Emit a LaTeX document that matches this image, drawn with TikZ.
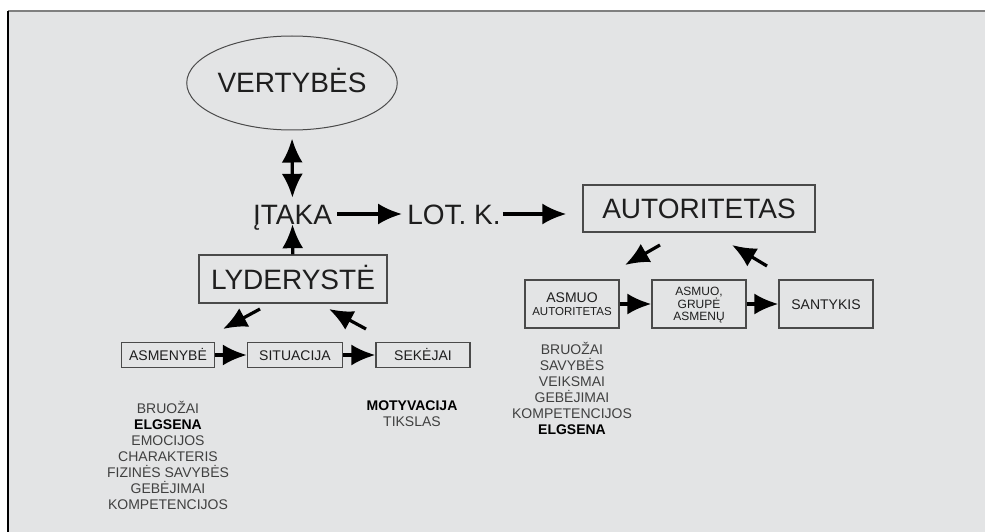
\documentclass[tikz,border=0pt]{standalone}
\usepackage{fontspec}
\setmainfont{Liberation Sans}
\usetikzlibrary{arrows.meta,shapes.geometric}
\definecolor{panel}{HTML}{E3E4E5}
\definecolor{ink}{HTML}{1E1E1E}
\definecolor{frame}{HTML}{4A4A4A}
\tikzset{
 big/.style={font=\fontsize{28}{28}\selectfont,text=ink,inner sep=0pt,text height=20pt,text depth=0pt},
 bigbox/.style={big,draw=frame,line width=1.2pt},
 smallbox/.style={draw=frame,line width=1.2pt,inner sep=0pt,font=\fontsize{14}{14}\selectfont,text=ink,text height=10pt,text depth=0pt},
 lst/.style={font=\fontsize{14}{16}\selectfont,align=center,text=ink!85,inner sep=0pt},
 arr/.style={-{Latex[length=24pt,width=21pt]},line width=3.2pt,draw=black},
 twoarr/.style={{Latex[length=24pt,width=21pt]}-{Latex[length=24pt,width=21pt]},line width=3.2pt,draw=black}
}
\begin{document}
\begin{tikzpicture}[x=1pt,y=-1pt]
\useasboundingbox (0,0) rectangle (985,532);
\fill[panel] (8,11) rectangle (985,532);
\draw[gray,line width=1.5pt] (8,11) -- (985,11);
\draw[black,line width=1.5pt] (8,11) -- (8,532);
\node[big,ellipse,draw=frame,line width=1pt,minimum width=189pt,minimum height=94pt] (vert) at (292,83) {VERTYBĖS};
\node[big] (itaka) at (292.5,214) {ĮTAKA};
\node[big] (lot) at (454,214) {LOT. K.};
\node[bigbox,minimum width=232pt,minimum height=47pt] (aut) at (699,208.5) {AUTORITETAS};
\node[bigbox,minimum width=188pt,minimum height=48pt] (lyd) at (293,279) {LYDERYSTĖ};
\node[smallbox,minimum width=93pt,minimum height=25pt] (asm) at (168,355) {ASMENYBĖ};
\node[smallbox,minimum width=95pt,minimum height=25pt] (sit) at (295,355) {SITUACIJA};
\node[smallbox,minimum width=94pt,minimum height=25pt] (sek) at (423,355) {SEKĖJAI};
\node[smallbox,minimum width=94pt,minimum height=48pt,align=center,text height=,font=\fontsize{14}{13}\selectfont] (aa) at (572,304) {ASMUO\\{\fontsize{11.5}{13}\selectfont AUTORITETAS}};
\node[smallbox,minimum width=94pt,minimum height=48pt,align=center,text height=,font=\fontsize{12}{12.5}\selectfont] (agr) at (699,304) {ASMUO,\\GRUPĖ\\ASMENŲ};
\node[smallbox,minimum width=94pt,minimum height=48pt] (san) at (826,304) {SANTYKIS};
\node[lst,anchor=north] (asmlst) at (168,401) {BRUOŽAI\\\textbf{\color{black}ELGSENA}\\EMOCIJOS\\CHARAKTERIS\\FIZINĖS SAVYBĖS\\GEBĖJIMAI\\KOMPETENCIJOS};
\node[lst,anchor=north] (seklst) at (412,401) {\textbf{\color{black}MOTYVACIJA}\\TIKSLAS};
\node[lst,anchor=north] (aalst) at (572,342) {BRUOŽAI\\SAVYBĖS\\VEIKSMAI\\GEBĖJIMAI\\KOMPETENCIJOS\\\textbf{\color{black}ELGSENA}};
\coordinate (d1a) at (260,309);
\coordinate (d1b) at (223,329);
\coordinate (d2a) at (366,329);
\coordinate (d2b) at (329,309);
\coordinate (d3a) at (660,245);
\coordinate (d3b) at (625,265);
\coordinate (d4a) at (767,266);
\coordinate (d4b) at (732,245);
\draw[twoarr,shorten <=8pt,shorten >=6pt] (vert.south) -- (itaka.north);
\draw[arr] (lyd) -- (itaka.south);
\draw[arr,shorten <=5pt,shorten >=5pt] (itaka.east) -- (lot.west);
\draw[arr,shorten <=2pt,shorten >=16pt] (lot.east) -- (lot.east -| aut.west);
\draw[arr] (asm) -- (sit);
\draw[arr] (sit) -- (sek);
\draw[arr] (aa) -- (agr);
\draw[arr] (agr) -- (san);
\draw[arr] (d1a) -- (d1b);
\draw[arr] (d2a) -- (d2b);
\draw[arr] (d3a) -- (d3b);
\draw[arr] (d4a) -- (d4b);
\end{tikzpicture}
\end{document}
